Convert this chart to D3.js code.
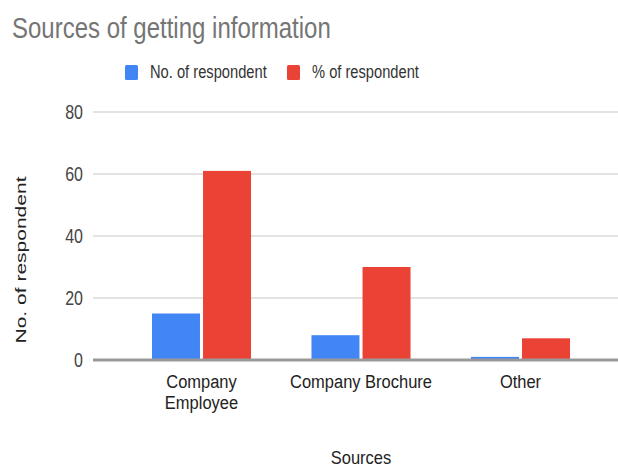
<!DOCTYPE html>
<html>
<head>
<meta charset="utf-8">
<script src="https://cdn.jsdelivr.net/npm/d3@7"></script>
<style>
  html, body { margin: 0; padding: 0; background: #fff; }
  svg { display: block; font-family: "Liberation Sans", Arial, sans-serif; }
</style>
</head>
<body>
<svg id="chart" width="618" height="468"></svg>
<script>
// Categories and series
const categories = ["Company Employee", "Company Brochure", "Other"];
const categoryLines = [["Company", "Employee"], ["Company Brochure"], ["Other"]];
const seriesNames = ["No. of respondent", "% of respondent"];
const respondentCount = [15, 8, 1];
const respondentPct = [61, 30, 7];
const yTicks = [0, 20, 40, 60, 80];
const colors = ["#4285f4", "#ea4335"];

// Glyphs are drawn taller than wide
const STRETCH = 1.3;

const svg = d3.select("#chart");
const plotLeft = 93, plotRight = 618, plotTop = 112, plotBottom = 360;

const y = d3.scaleLinear().domain([0, 80]).range([plotBottom, plotTop]);
const x0 = d3.scaleBand().domain(categories).range([122, 600])
  .paddingInner(0.379).paddingOuter(0.188);
const x1 = d3.scaleBand().domain(seriesNames).range([0, x0.bandwidth()]).paddingInner(0.06);

function label(x, yPos, str, size, fill, anchor, rotate, stretch) {
  const s = stretch || STRETCH;
  return svg.append("text")
    .attr("transform", `translate(${x},${yPos}) scale(1,${s})` + (rotate ? " rotate(-90)" : ""))
    .attr("text-anchor", anchor || "start")
    .attr("font-size", size).attr("fill", fill)
    .text(str);
}

// Title
label(12, 38, "Sources of getting information", 24, "#757575", "start", false, 1.2);

// Legend
const legend = [
  { name: seriesNames[0], color: colors[0], x: 125 },
  { name: seriesNames[1], color: colors[1], x: 287 }
];
legend.forEach(d => {
  svg.append("rect").attr("x", d.x).attr("y", 65).attr("width", 13).attr("height", 15)
    .attr("rx", 1.5).attr("fill", d.color);
  label(d.x + 25, 78, d.name, 14.7, "#333");
});

// Gridlines
svg.append("g").selectAll("line").data(yTicks.filter(t => t > 0)).join("line")
  .attr("x1", plotLeft).attr("x2", plotRight)
  .attr("y1", d => y(d)).attr("y2", d => y(d))
  .attr("stroke", "#e3e3e3").attr("stroke-width", 2);

// Y axis
const yAxis = svg.append("g").attr("transform", `translate(${plotLeft},0)`)
  .call(d3.axisLeft(y).tickValues(yTicks).tickSize(0).tickPadding(10));
yAxis.select(".domain").remove();
yAxis.selectAll("text")
  .attr("font-size", 16).attr("fill", "#444")
  .attr("font-family", "'Liberation Sans', Arial, sans-serif")
  .attr("transform", `scale(1,${STRETCH})`);

// Bars
const data = categories.map((c, i) => ({ cat: c, values: [respondentCount[i], respondentPct[i]] }));
const groups = svg.append("g").selectAll("g").data(data).join("g")
  .attr("transform", d => `translate(${x0(d.cat)},0)`);
groups.selectAll("rect").data(d => d.values.map((v, j) => ({ v, s: seriesNames[j], c: colors[j] })))
  .join("rect")
  .attr("x", d => x1(d.s))
  .attr("y", d => y(d.v))
  .attr("width", x1.bandwidth())
  .attr("height", d => y(0) - y(d.v))
  .attr("fill", d => d.c);

// Baseline
svg.append("line").attr("x1", plotLeft).attr("x2", plotRight)
  .attr("y1", y(0)).attr("y2", y(0))
  .attr("stroke", "#999").attr("stroke-width", 3);

// X category labels
categories.forEach((c, i) => {
  const cx = x0(c) + x0.bandwidth() / 2;
  categoryLines[i].forEach((line, k) => {
    label(cx, 388 + k * 21, line, 16.5, "#222", "middle", false, 1.1);
  });
});

// Axis titles
label(361, 464, "Sources", 16.5, "#222", "middle", false, 1.15);
label(26, 260, "No. of respondent", 14.5, "#222", "middle", true, 1.45);
</script>
</body>
</html>
